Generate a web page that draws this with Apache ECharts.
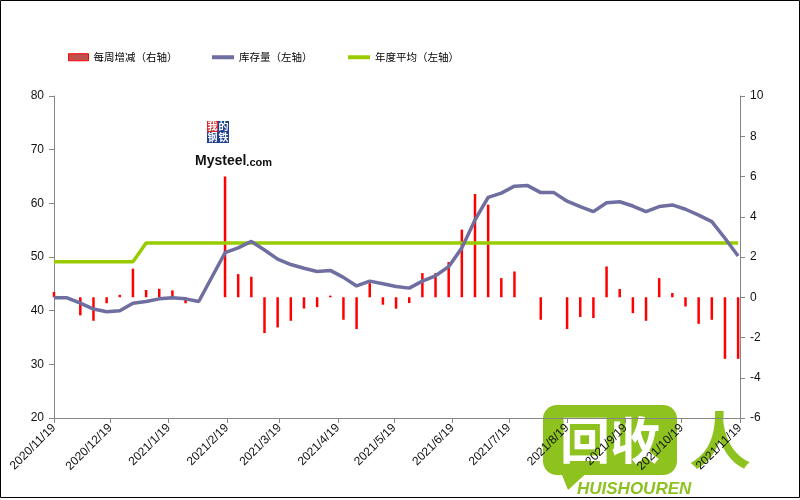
<!DOCTYPE html>
<html>
<head>
<meta charset="utf-8">
<script src="https://cdn.jsdelivr.net/npm/echarts@6/dist/echarts.min.js"></script>
<style>
html,body{margin:0;padding:0;background:#fff;}
#c{width:800px;height:500px;}
</style>
</head>
<body>
<div id="c"></div>
<script>
// weekly dates
var dates = ['2020-11-19','2020-11-26','2020-12-03','2020-12-10','2020-12-17','2020-12-24','2020-12-31',
 '2021-01-07','2021-01-14','2021-01-21','2021-01-28','2021-02-04','2021-02-11','2021-02-18','2021-02-25',
 '2021-03-04','2021-03-11','2021-03-18','2021-03-25','2021-04-01','2021-04-08','2021-04-15','2021-04-22',
 '2021-04-29','2021-05-06','2021-05-13','2021-05-20','2021-05-27','2021-06-03','2021-06-10','2021-06-17',
 '2021-06-24','2021-07-01','2021-07-08','2021-07-15','2021-07-22','2021-07-29','2021-08-05','2021-08-12',
 '2021-08-19','2021-08-26','2021-09-02','2021-09-09','2021-09-16','2021-09-23','2021-09-30','2021-10-07',
 '2021-10-14','2021-10-21','2021-10-28','2021-11-04','2021-11-11','2021-11-18'];
// 库存量（左轴）
var stock = [42.4,42.4,41.4,40.3,39.8,40.0,41.4,
 41.7,42.2,42.4,42.2,41.7,null,50.8,51.7,
 52.9,51.3,49.6,48.6,47.9,47.3,47.5,46.2,
 44.6,45.5,45.0,44.5,44.2,45.5,46.5,48.2,
 51.7,56.9,61.1,61.9,63.2,63.3,62.0,62.0,
 60.4,59.4,58.45,60.1,60.3,59.5,58.45,59.4,
 59.7,58.9,57.8,56.6,53.5,50.2];
// 每周增减（右轴）
var change = [0.26,null,-0.9,-1.17,-0.3,0.12,1.42,
 0.36,0.42,0.34,-0.3,null,null,6.0,1.15,
 1.02,-1.78,-1.5,-1.17,-0.56,-0.49,0.08,-1.12,
 -1.58,0.7,-0.37,-0.57,-0.29,1.2,1.2,1.75,
 3.36,5.13,4.6,0.95,1.28,null,-1.12,null,
 -1.58,-0.98,-1.03,1.53,0.41,-0.79,-1.17,0.95,
 0.21,-0.46,-1.32,-1.12,-3.06,-3.06];
// 年度平均（左轴）
var avg = [49.1,49.1,49.1,49.1,49.1,49.1,49.1,
 52.6,52.6,52.6,52.6,52.6,52.6,52.6,52.6,
 52.6,52.6,52.6,52.6,52.6,52.6,52.6,52.6,
 52.6,52.6,52.6,52.6,52.6,52.6,52.6,52.6,
 52.6,52.6,52.6,52.6,52.6,52.6,52.6,52.6,
 52.6,52.6,52.6,52.6,52.6,52.6,52.6,52.6,
 52.6,52.6,52.6,52.6,52.6,52.6];
// monthly tick labels
var tickDates = ['2020-11-19','2020-12-19','2021-01-19','2021-02-19','2021-03-19','2021-04-19','2021-05-19',
 '2021-06-19','2021-07-19','2021-08-19','2021-09-19','2021-10-19','2021-11-19'];

var names = ['每周增减（右轴）','库存量（左轴）','年度平均（左轴）'];

var DAY = 86400000;
function dayNum(s){ var p = s.split('-'); return Math.round(Date.UTC(+p[0], +p[1]-1, +p[2]) / DAY); }
function pairs(arr){ return dates.map(function(d,i){ return [dayNum(d), arr[i]]; }); }
var tickNums = tickDates.map(dayNum);
var tickLabelMap = {};
tickDates.forEach(function(s,i){ var p=s.split('-'); tickLabelMap[tickNums[i]] = (+p[0])+'/'+(+p[1])+'/'+(+p[2]); });

var chart = echarts.init(document.getElementById('c'), null, {renderer:'canvas'});
var axisCol = '#868686';
var lblFont = {color:'#111', fontSize:12, fontFamily:'Liberation Sans, Arial, sans-serif'};
var legFont = {color:'#000', fontSize:10.5, fontFamily:'Noto Sans CJK SC, sans-serif'};

chart.setOption({
  animation:false,
  backgroundColor:'#fff',
  grid:{left:54, right:60, top:96, bottom:82, containLabel:false},
  legend:[
    {left:63, top:47, itemWidth:20, itemHeight:7, itemGap:0, textStyle:legFont,
     data:[{name:names[0], icon:'rect', itemStyle:{color:'#C0504D', borderColor:'#FF0000', borderWidth:1}}]},
    {left:207, top:47, itemWidth:22, itemHeight:4, itemGap:0, textStyle:legFont,
     data:[{name:names[1], icon:'rect', itemStyle:{color:'#6E6EA0'}}]},
    {left:343, top:47, itemWidth:22, itemHeight:4, itemGap:0, textStyle:legFont,
     data:[{name:names[2], icon:'rect', itemStyle:{color:'#99CC00'}}]}
  ],
  xAxis:{
    type:'value',
    min:tickNums[0], max:tickNums[tickNums.length-1],
    axisLine:{show:true, onZero:false, lineStyle:{color:axisCol, width:1}},
    axisTick:{show:true, length:5, customValues:tickNums, lineStyle:{color:axisCol}},
    axisLabel:{show:true, rotate:45, margin:8, customValues:tickNums,
      formatter:function(v){ return tickLabelMap[v] || ''; },
      color:'#111', fontSize:12, fontFamily:'Liberation Sans, Arial, sans-serif'},
    splitLine:{show:false}
  },
  yAxis:[
    {type:'value', min:20, max:80, interval:10, position:'left',
     axisLine:{show:true, lineStyle:{color:axisCol}},
     axisTick:{show:true, length:5, lineStyle:{color:axisCol}},
     axisLabel:Object.assign({margin:10}, lblFont),
     splitLine:{show:false}},
    {type:'value', min:-6, max:10, interval:2, position:'right',
     axisLine:{show:true, lineStyle:{color:axisCol}},
     axisTick:{show:true, length:5, lineStyle:{color:axisCol}},
     axisLabel:Object.assign({margin:10}, lblFont),
     splitLine:{show:false}}
  ],
  series:[
    {name:names[0], type:'bar', yAxisIndex:1, data:pairs(change), barWidth:2.5,
     itemStyle:{color:'#FF0000'}, z:2},
    {name:names[1], type:'line', yAxisIndex:0, data:pairs(stock), connectNulls:true,
     symbol:'none', lineStyle:{color:'#6E6EA0', width:3.5}, itemStyle:{color:'#6E6EA0'}, z:4},
    {name:names[2], type:'line', yAxisIndex:0, data:pairs(avg),
     symbol:'none', lineStyle:{color:'#99CC00', width:3.5}, itemStyle:{color:'#99CC00'}, z:3}
  ],
  graphic:[
    {type:'rect', shape:{x:0.5,y:0.5,width:799,height:497}, style:{fill:'none', stroke:'#000', lineWidth:1}, silent:true},
    {type:'rect', shape:{x:207,y:121,width:11,height:11}, style:{fill:'#D8262A'}},
    {type:'rect', shape:{x:218,y:121,width:11,height:11}, style:{fill:'#1F3F8F'}},
    {type:'rect', shape:{x:207,y:132,width:11,height:11}, style:{fill:'#1F3F8F'}},
    {type:'rect', shape:{x:218,y:132,width:11,height:11}, style:{fill:'#1F3F8F'}},
    {type:'text', style:{x:212.5,y:126.5,text:'我',fill:'#fff',fontSize:10,fontWeight:'bold',fontFamily:'Noto Sans CJK SC',align:'center',verticalAlign:'middle'}},
    {type:'text', style:{x:223.5,y:126.5,text:'的',fill:'#fff',fontSize:10,fontWeight:'bold',fontFamily:'Noto Sans CJK SC',align:'center',verticalAlign:'middle'}},
    {type:'text', style:{x:212.5,y:137.5,text:'钢',fill:'#fff',fontSize:10,fontWeight:'bold',fontFamily:'Noto Sans CJK SC',align:'center',verticalAlign:'middle'}},
    {type:'text', style:{x:223.5,y:137.5,text:'铁',fill:'#fff',fontSize:10,fontWeight:'bold',fontFamily:'Noto Sans CJK SC',align:'center',verticalAlign:'middle'}},
    {type:'text', style:{x:195,y:154,text:'{a|Mysteel}{b|.com}',fill:'#111',fontFamily:'Liberation Sans',
      rich:{a:{fontSize:14,fontWeight:'bold',fill:'#111',fontFamily:'Liberation Sans'},
            b:{fontSize:11,fontWeight:'bold',fill:'#111',fontFamily:'Liberation Sans',padding:[3,0,0,0]}}}},
    {type:'rect', shape:{x:543,y:405,width:134,height:70,r:14}, style:{fill:'#8DC21F'}},
    {type:'polygon', shape:{points:[[560,470],[568,490],[590,470]]}, style:{fill:'#8DC21F'}},
    {type:'text', style:{x:610,y:440,text:'回收',fill:'#fff',fontSize:50,fontWeight:'bold',fontFamily:'Noto Sans CJK SC',align:'center',verticalAlign:'middle'}},
    {type:'text', style:{x:720,y:440,text:'人',fill:'#8DC21F',fontSize:62,fontWeight:'bold',fontFamily:'Noto Sans CJK SC',align:'center',verticalAlign:'middle'}},
    {type:'text', style:{x:577,y:481,text:'HUISHOUREN',fill:'#8DC21F',fontSize:17,fontWeight:'bold',fontStyle:'italic',fontFamily:'Liberation Sans'}}
  ]
});
</script>
</body>
</html>
